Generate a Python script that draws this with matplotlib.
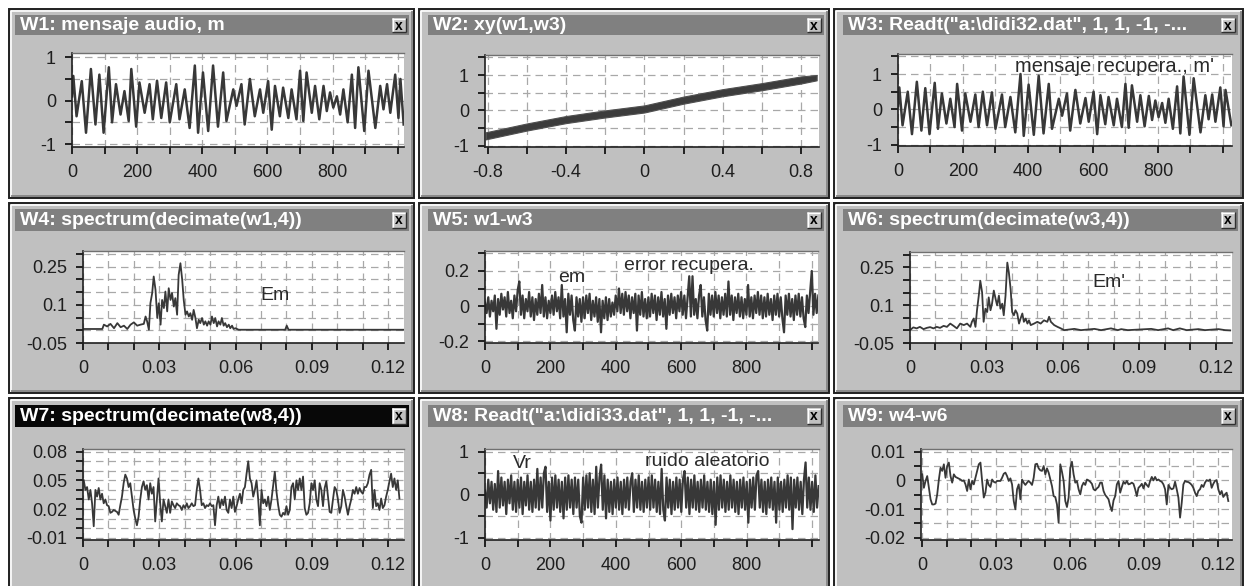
import numpy as np
import matplotlib
matplotlib.use('Agg')
import matplotlib.pyplot as plt
from matplotlib.patches import Rectangle

plt.rcParams['font.family'] = ['Liberation Sans', 'DejaVu Sans']

# ---------------- data ----------------
titles = ['W1: mensaje audio, m', 'W2: xy(w1,w3)', 'W3: Readt("a:\\didi32.dat", 1, 1, -1, -...',
          'W4: spectrum(decimate(w1,4))', 'W5: w1-w3', 'W6: spectrum(decimate(w3,4))',
          'W7: spectrum(decimate(w8,4))', 'W8: Readt("a:\\didi33.dat", 1, 1, -1, -...', 'W9: w4-w6']

# W1: message (extrema)
w1_idx = [0, 4, 14, 30, 43, 58, 72, 84, 97, 113, 123, 135, 149, 161, 174, 182, 197, 207, 223, 238,
          248, 261, 274, 289, 300, 320, 330, 346, 361, 377, 387, 402, 418, 433, 448, 464, 474, 495, 505, 520,
          530, 546, 561, 577, 587, 602, 613, 623, 638, 648, 664, 674, 689, 700, 710, 720, 736, 746, 759, 772,
          782, 792, 802, 813, 823, 833, 846, 859, 869, 879, 897, 910, 931, 946, 956, 967, 977, 992, 1002, 1008,
          1018]
w1_val = [0.1, 0.57, -0.36, 0.45, -0.74, 0.73, -0.55, 0.6, -0.74, 0.77,
          -0.5, 0.38, -0.32, 0.22, -0.47, 0.73, -0.6, 0.42, -0.28, 0.38,
          -0.43, 0.46, -0.4, 0.42, -0.5, 0.38, -0.43, 0.26, -0.63, 0.81,
          -0.74, 0.65, -0.7, 0.81, -0.6, 0.65, -0.47, 0.26, -0.12, 0.38,
          -0.55, 0.5, -0.36, 0.26, -0.28, 0.45, -0.67, 0.34, -0.36, 0.3,
          -0.4, 0.26, -0.43, 0.69, -0.47, 0.65, -0.28, 0.34, -0.43, 0.34,
          -0.24, 0.19, -0.16, 0.1, -0.32, 0.26, -0.5, 0.6, -0.63, 0.77,
          -0.7, 0.69, -0.63, 0.34, -0.2, 0.38, -0.28, 0.6, -0.4, 0.5,
          -0.55]

# W3: recovered message
w3_idx = w1_idx[:-1] + [1026]
w3_val = [0.1, 0.62, -0.45, 0.5, -0.7, 0.78, -0.6, 0.6, -0.7, 0.75,
          -0.55, 0.45, -0.4, 0.3, -0.5, 0.72, -0.6, 0.45, -0.35, 0.42,
          -0.5, 0.5, -0.45, 0.48, -0.55, 0.42, -0.5, 0.35, -0.65, 1.0,
          -0.75, 0.7, -0.72, 0.95, -0.68, 0.72, -0.55, 0.3, -0.18, 0.45,
          -0.6, 0.55, -0.4, 0.32, -0.35, 0.5, -0.7, 0.4, -0.42, 0.35,
          -0.45, 0.3, -0.5, 0.72, -0.52, 0.68, -0.35, 0.4, -0.48, 0.38,
          -0.3, 0.25, -0.22, 0.18, -0.38, 0.3, -0.55, 0.65, -0.68, 0.93,
          -0.72, 0.88, -0.65, 0.4, -0.28, 0.42, -0.35, 0.62, -0.48, 0.55,
          -0.45]

# W2: xy(w1, w3) band
xy_x = [-0.81, -0.6, -0.4, -0.2, 0.0, 0.2, 0.4, 0.6, 0.8, 0.88]
xy_lo = [-0.82, -0.57, -0.36, -0.20, -0.06, 0.19, 0.40, 0.57, 0.76, 0.85]
xy_hi = [-0.62, -0.37, -0.16, 0.00, 0.14, 0.39, 0.60, 0.77, 0.96, 1.0]

# W4: spectrum of m
w4_f = [0.0, 0.0076, 0.0082, 0.0095, 0.0108, 0.0122, 0.0135, 0.0148, 0.0161, 0.0174,
        0.0187, 0.0200, 0.0213, 0.0226, 0.0239,
        0.0246, 0.0252, 0.0259, 0.0265, 0.0272, 0.0278, 0.0285, 0.0292, 0.0298, 0.0305,
        0.0311, 0.0318, 0.0324, 0.0331, 0.0337, 0.0344, 0.0350, 0.0357, 0.0363, 0.0370,
        0.0376, 0.0383, 0.0390, 0.0396, 0.0403, 0.0409, 0.0416, 0.0422, 0.0429, 0.0435,
        0.0442, 0.0448, 0.0455, 0.0461, 0.0468, 0.0475, 0.0481, 0.0488, 0.0494, 0.0501,
        0.0507, 0.0514, 0.0520, 0.0527, 0.0533, 0.0540, 0.0546, 0.0553, 0.0559, 0.0566,
        0.0573, 0.0579, 0.0586, 0.0592, 0.0599,
        0.0612, 0.0638, 0.0795, 0.0801, 0.0808, 0.1262]
w4_v = [0.005, 0.005, 0.022, 0.015, 0.025, 0.008, 0.028, 0.012, 0.018, 0.005,
        0.022, 0.031, 0.018, 0.022, 0.025,
        0.054, 0.035, 0.002, 0.106, 0.146, 0.211, 0.159, 0.048, 0.106, 0.022,
        0.119, 0.087, 0.152, 0.074, 0.165, 0.119, 0.146, 0.093, 0.126, 0.061,
        0.217, 0.263, 0.198, 0.119, 0.061, 0.074, 0.054, 0.067, 0.041, 0.080,
        0.048, 0.008, 0.041, 0.028, 0.048, 0.022, 0.035, 0.018, 0.035, 0.022,
        0.054, 0.028, 0.048, 0.015, 0.035, 0.022, 0.048, 0.018, 0.028, 0.012,
        0.022, 0.008, 0.018, 0.005, 0.008,
        0.002, 0.002, 0.002, 0.018, 0.002, 0.002]

# W5: error w1-w3 (every 5th sample)
w5_step = 5
w5_val = [0.02, -0.04, 0.05, -0.06, 0.03, -0.03, 0.06, -0.13, 0.04, -0.05, 0.07, -0.02, 0.05, -0.06, 0.08, -0.04, 0.03, -0.07, 0.06, -0.03,
          0.09, 0.14, -0.05, 0.06, -0.07, 0.04, -0.03, 0.08, -0.06, 0.05, -0.08, 0.04, -0.05, 0.07, -0.04, 0.12, -0.06, 0.05, -0.07, 0.03,
          -0.04, 0.06, -0.05, 0.08, -0.03, 0.05, -0.07, 0.12, -0.06, 0.04, -0.15, 0.07, -0.05, 0.06, -0.08, -0.14, 0.05, -0.06, 0.04, -0.09,
          0.05, -0.07, 0.06, -0.04, 0.07, -0.08, 0.03, -0.06, 0.05, -0.09, 0.04, -0.15, 0.03, -0.07, 0.05, -0.08, 0.04, -0.06, 0.02, -0.05,
          0.06, -0.03, 0.1, -0.04, 0.07, -0.05, 0.08, -0.03, 0.06, -0.07, 0.05, -0.04, 0.07, -0.14, 0.06, -0.05, 0.08, -0.06, 0.04, -0.07,
          0.05, -0.06, 0.07, -0.04, 0.06, -0.08, 0.05, -0.05, 0.08, -0.06, 0.04, -0.13, 0.06, -0.05, 0.07, -0.04, 0.05, -0.07, 0.06, -0.03,
          0.08, -0.05, 0.06, -0.07, 0.05, 0.17, -0.06, 0.17, -0.05, 0.04, -0.07, 0.06, 0.12, -0.06, 0.05, -0.08, -0.14, 0.07, -0.05, 0.06,
          -0.06, 0.08, -0.04, 0.06, -0.07, 0.05, -0.05, 0.07, -0.06, 0.14, -0.05, 0.06, -0.08, 0.05, -0.04, 0.07, -0.06, 0.05, -0.07, 0.04,
          -0.05, 0.12, -0.06, 0.05, -0.07, 0.06, -0.04, 0.08, -0.05, 0.06, -0.07, 0.05, -0.06, 0.07, -0.05, 0.04, -0.08, 0.06, -0.05, 0.07,
          -0.06, 0.05, -0.07, -0.15, 0.06, -0.05, 0.07, -0.06, 0.04, -0.08, 0.06, -0.05, 0.07, -0.06, 0.05, -0.07, -0.12, 0.06, -0.04, 0.08,
          0.2, -0.05, 0.07, -0.04, 0.06]

# W6: spectrum of m'
w6_f = [0.0, 0.0013, 0.0026, 0.0039, 0.0053, 0.0066, 0.0079, 0.0092, 0.0105, 0.0118,
        0.0132, 0.0145, 0.0158, 0.0171, 0.0184, 0.0197, 0.0211, 0.0224, 0.0237, 0.0243,
        0.0250, 0.0257, 0.0263, 0.0270, 0.0276, 0.0283, 0.0289, 0.0296, 0.0303, 0.0309,
        0.0316, 0.0322, 0.0329, 0.0336, 0.0342, 0.0349, 0.0355, 0.0362, 0.0368, 0.0375,
        0.0382, 0.0388, 0.0395, 0.0401, 0.0408, 0.0414, 0.0421, 0.0428, 0.0434, 0.0441,
        0.0447, 0.0454, 0.0461, 0.0467, 0.0474, 0.0487, 0.0500, 0.0513, 0.0526, 0.0539,
        0.0546, 0.0553, 0.0566, 0.0579, 0.0592, 0.0605, 0.0645, 0.0671, 0.0724, 0.0750,
        0.0789, 0.0816, 0.0829, 0.0855, 0.0947, 0.0974, 0.1013, 0.1033, 0.1059, 0.1086,
        0.1132, 0.1158, 0.1211, 0.1237, 0.1257]
w6_v = [0.001, 0.012, 0.008, 0.014, 0.005, 0.010, 0.013, 0.008, 0.014, 0.010,
        0.018, 0.014, 0.027, 0.018, 0.008, 0.027, 0.021, 0.027, 0.014, 0.034,
        0.047, 0.014, 0.080, 0.138, 0.197, 0.151, 0.034, 0.086, 0.073, 0.131,
        0.080, 0.106, 0.158, 0.125, 0.099, 0.138, 0.086, 0.106, 0.060, 0.138,
        0.269, 0.230, 0.164, 0.073, 0.060, 0.080, 0.067, 0.027, 0.047, 0.067,
        0.034, 0.047, 0.027, 0.040, 0.021, 0.027, 0.034, 0.027, 0.040, 0.034,
        0.054, 0.034, 0.021, 0.014, 0.008, 0.001, 0.006, 0.001, 0.006, 0.001,
        0.008, 0.001, 0.005, 0.001, 0.006, 0.001, 0.008, 0.001, 0.008, 0.001,
        0.005, 0.001, 0.005, 0.001, 0.000]

# W7: spectrum of noise (uniform bins)
w7_f0, w7_f1 = 0.0003, 0.1244
w7_v = [0.050, 0.040, 0.043, 0.030, 0.040, 0.026, 0.002, 0.040, 0.033, 0.042,
        0.030, 0.036, 0.026, 0.030, 0.024, 0.023, 0.016, 0.017, 0.019, 0.018,
        0.017, 0.014, 0.024, 0.033, 0.047, 0.056, 0.052, 0.043, 0.047, 0.033,
        0.019, 0.010, 0.003, 0.012, 0.030, 0.043, 0.049, 0.040, 0.045, 0.030,
        0.047, 0.036, 0.043, 0.007, 0.030, 0.052, 0.026, 0.007, 0.030, 0.023,
        0.016, 0.030, 0.016, 0.028, 0.024, 0.021, 0.026, 0.024, 0.023, 0.019,
        0.024, 0.021, 0.026, 0.021, 0.023, 0.026, 0.023, 0.024, 0.040, 0.052,
        0.040, 0.024, 0.026, 0.021, 0.024, 0.023, 0.026, 0.023, 0.024, 0.003,
        0.024, 0.033, 0.021, 0.030, 0.024, 0.033, 0.019, 0.016, 0.030, 0.021,
        0.033, 0.017, 0.023, 0.030, 0.036, 0.026, 0.040, 0.043, 0.057, 0.070,
        0.052, 0.047, 0.033, 0.040, 0.050, 0.030, 0.003, 0.040, 0.026, 0.030,
        0.023, 0.033, 0.019, 0.030, 0.045, 0.059, 0.038, 0.024, 0.014, 0.012,
        0.016, 0.014, 0.023, 0.014, 0.019, 0.043, 0.047, 0.030, 0.050, 0.040,
        0.052, 0.040, 0.054, 0.021, 0.014, 0.016, 0.026, 0.047, 0.040, 0.050,
        0.030, 0.023, 0.047, 0.040, 0.023, 0.042, 0.049, 0.033, 0.017, 0.016,
        0.030, 0.043, 0.040, 0.030, 0.016, 0.023, 0.040, 0.033, 0.023, 0.014,
        0.023, 0.030, 0.040, 0.036, 0.043, 0.036, 0.042, 0.038, 0.036, 0.043,
        0.043, 0.047, 0.056, 0.061, 0.021, 0.040, 0.023, 0.026, 0.019, 0.031,
        0.021, 0.024, 0.033, 0.040, 0.049, 0.057, 0.043, 0.052, 0.040, 0.050,
        0.031]

# W8: random noise (every 5th sample)
w8_step = 5
w8_val = [0.1, -0.3, 0.35, -0.2, 0.3, -0.35, 0.25, -0.4, 0.55, -0.3, 0.4, -0.25, 0.3, -0.45, 0.35, -0.2, 0.45, -0.35, 0.3, -0.4,
          0.35, -0.3, 0.4, -0.45, 0.3, -0.25, 0.45, -0.35, 0.3, -0.4, 0.35, -0.3, 0.6, -0.35, 0.4, -0.3, 0.5, 0.65, -0.4, 0.3,
          -0.6, 0.4, -0.35, 0.45, -0.3, 0.35, -0.4, 0.3, -0.55, 0.4, -0.35, 0.45, -0.3, 0.35, -0.45, 0.4, -0.3, 0.35, -0.5, -0.65,
          0.4, -0.35, 0.45, -0.3, 0.5, -0.4, 0.35, -0.45, 0.65, -0.3, 0.4, 0.7, -0.35, 0.45, -0.55, 0.35, -0.4, 0.3, -0.45, 0.35,
          -0.3, 0.4, -0.35, 0.3, -0.45, 0.35, -0.3, 0.4, -0.35, 0.3, 0.5, -0.4, 0.35, -0.3, 0.45, -0.35, 0.3, -0.4, 0.35, -0.3,
          0.4, -0.35, 0.45, -0.3, 0.35, -0.4, 0.3, -0.45, 0.6, -0.35, -0.6, 0.4, -0.3, 0.35, -0.45, 0.3, -0.35, 0.4, -0.3, 0.35,
          -0.4, 0.35, 0.55, -0.3, 0.4, -0.45, 0.35, -0.3, 0.45, -0.35, 0.3, -0.4, 0.35, -0.3, 0.45, -0.35, 0.3, -0.4, 0.35, -0.45,
          0.3, -0.7, 0.4, -0.35, 0.45, -0.3, 0.35, -0.4, 0.3, -0.35, 0.45, -0.3, 0.35, -0.4, 0.3, -0.45, 0.35, -0.3, 0.4, -0.35,
          0.3, -0.65, 0.35, -0.3, 0.4, -0.35, 0.45, 0.55, -0.3, 0.35, -0.4, 0.3, -0.45, 0.35, -0.3, 0.4, -0.35, 0.3, -0.65, 0.4,
          -0.35, 0.3, -0.4, 0.35, -0.3, 0.45, -0.35, 0.4, -0.8, 0.35, -0.3, 0.4, -0.35, 0.3, -0.45, 0.35, 0.75, -0.3, 0.4, -0.35,
          0.3, -0.4, 0.45, -0.3, 0.2]

# W9: w4 - w6 (uniform bins)
w9_f0, w9_f1 = 0.0001, 0.1241
w9_v = [0.0021, -0.0026, -0.0002, 0.0015, -0.0026, -0.0066, -0.0084, -0.0084, -0.0081, -0.0049,
        0.0003, 0.0044, 0.0033, 0.0056, 0.0009, 0.0050, 0.0062, 0.0015, -0.0008, 0.0021,
        0.0012, 0.0009, 0.0006, 0.0003, -0.0002, 0.0, -0.0014, -0.0037, 0.0003, -0.0031,
        -0.0002, -0.0014, 0.0009, 0.0033, 0.0056, 0.0062, -0.0002, -0.0060, -0.0043, 0.0003,
        -0.0016, -0.0023, 0.0003, -0.0005, -0.0008, -0.0002, -0.0002, -0.0002, 0.0009, 0.0023,
        0.0027, 0.0015, -0.0002, 0.0007, -0.0014, -0.0072, -0.0101, -0.0031, -0.0014, -0.0066,
        0.0003, -0.0008, -0.0016, -0.0008, -0.0002, -0.0008, -0.0016, 0.0009, 0.0056, 0.0058,
        0.0042, 0.0035, 0.0033, 0.0050, 0.0021, 0.0042, 0.0027, 0.0003, -0.0020, -0.0055,
        -0.0058, -0.0084, -0.0148, 0.0056, 0.0030, -0.0002, -0.0072, -0.0093, -0.0060, 0.0044,
        0.0065, 0.0021, -0.0008, -0.0002, -0.0031, -0.0049, -0.0020, -0.0008, -0.0016, 0.0003,
        0.0, -0.0005, -0.0012, -0.0031, -0.0035, -0.0028, -0.0023, -0.0008, -0.0008, -0.0037,
        -0.0051, -0.0058, -0.0066, -0.0090, -0.0107, -0.0070, -0.0055, -0.0014, -0.0002, -0.0043,
        -0.0023, -0.0005, -0.0012, -0.0002, -0.0014, -0.0012, -0.0008, -0.0012, -0.0031, -0.0055,
        -0.0026, -0.0020, -0.0012, -0.0028, -0.0008, -0.0016, -0.0023, -0.0002, 0.0012, 0.0,
        0.0012, 0.0, 0.0003, -0.0002, -0.0005, -0.0014, -0.0031, -0.0084, -0.0016, -0.0026,
        -0.0031, -0.0028, -0.0005, -0.0031, -0.0060, -0.0130, -0.0078, -0.0014, -0.0002, -0.0005,
        -0.0006, -0.0010, -0.0016, -0.0026, -0.0043, -0.0055, -0.0037, -0.0031, -0.0016, -0.0023,
        -0.0008, 0.0001, -0.0002, 0.0003, -0.0026, -0.0012, -0.0002, 0.0001, -0.0031, -0.0049,
        -0.0037, -0.0058, -0.0049, -0.0043, -0.0072]

# tick definitions
t_idx_major = [0, 200, 400, 600, 800]
t_idx_minor = [100, 300, 500, 700, 900, 1000]
t_idx_lab = ['0', '200', '400', '600', '800']
t_f_major = [0, 0.03, 0.06, 0.09, 0.12]
t_f_minor = [0.01, 0.02, 0.04, 0.05, 0.07, 0.08, 0.10, 0.11]
t_f_lab = ['0', '0.03', '0.06', '0.09', '0.12']

# ---------------- figure ----------------
W, H = 1247, 586
fig = plt.figure(figsize=(W / 100, H / 100), dpi=100)
fig.patch.set_facecolor('white')
bg = fig.add_axes([0, 0, 1, 1])
bg.set_xlim(0, W)
bg.set_ylim(H, 0)
bg.axis('off')

BODY = '#c0c0c0'
TITLE = '#808080'
LINE = '#383838'
TXT = '#1e1e1e'

col_x = [(9, 414), (419, 829), (834, 1243)]
row_y = [(9, 198), (203, 393), (398, 592)]
title_x = [(15, 409), (428, 824), (843, 1238)]
title_y = [(15, 35), (209, 231), (405, 427)]


def hline(x0, x1, y, c, lw=1.0):
    bg.plot([x0, x1], [y, y], color=c, lw=lw, solid_capstyle='butt')


def vline(x, y0, y1, c, lw=1.0):
    bg.plot([x, x], [y0, y1], color=c, lw=lw, solid_capstyle='butt')


for r in range(3):
    for c in range(3):
        k = r * 3 + c
        x0, x1 = col_x[c]
        y0, y1 = row_y[r]
        bg.add_patch(Rectangle((x0, y0), x1 - x0, y1 - y0, facecolor=BODY, edgecolor='#202020', lw=1.4))
        hline(x0 + 1.5, x1 - 1.5, y0 + 2, 'white', 1.2)
        vline(x0 + 2, y0 + 1.5, y1 - 1.5, 'white', 1.2)
        hline(x0 + 1.5, x1 - 1.5, y1 - 2, '#808080', 1.2)
        vline(x1 - 2, y0 + 1.5, y1 - 1.5, '#808080', 1.2)
        tx0, tx1 = title_x[c]
        ty0, ty1 = title_y[r]
        active = (k == 6)
        bg.add_patch(Rectangle((tx0, ty0), tx1 - tx0, ty1 - ty0,
                               facecolor='#080808' if active else TITLE, edgecolor='none'))
        bg.text(tx0 + 5, (ty0 + ty1) / 2 + 0.5, titles[k], color='white', fontsize=14,
                fontweight='bold', va='center', ha='left')
        # close button
        bx0, by0, bw, bh = tx1 - 17, ty0 + 3, 14, ty1 - ty0 - 6
        bg.add_patch(Rectangle((bx0, by0), bw, bh, facecolor=BODY, edgecolor='none'))
        hline(bx0, bx0 + bw, by0 + 0.5, 'white', 1)
        vline(bx0 + 0.5, by0, by0 + bh, 'white', 1)
        hline(bx0, bx0 + bw, by0 + bh - 0.5, '#303030', 1)
        vline(bx0 + bw - 0.5, by0, by0 + bh, '#303030', 1)
        bg.text(bx0 + bw / 2, by0 + bh / 2 + 0.5, 'x', fontsize=10, fontweight='bold',
                color='black', ha='center', va='center')


def make_ax(px0, px1, py0, py1, xlim, ylim, xmaj, xmin, xlab, ymaj, ymin, ylab):
    ax = fig.add_axes([px0 / W, 1 - py1 / H, (px1 - px0) / W, (py1 - py0) / H])
    ax.set_facecolor('white')
    ax.set_xlim(*xlim)
    ax.set_ylim(*ylim)
    ax.set_xticks(xmaj)
    ax.set_xticklabels(xlab)
    ax.set_xticks(xmin, minor=True)
    ax.set_yticks(ymaj)
    ax.set_yticklabels(ylab)
    ax.set_yticks(ymin, minor=True)
    ax.spines['right'].set_visible(False)
    ax.spines['top'].set_color('#707070')
    ax.spines['top'].set_linewidth(1.0)
    for s in ('left', 'bottom'):
        ax.spines[s].set_color('#202020')
        ax.spines[s].set_linewidth(1.2)
    ax.tick_params(which='both', direction='out', length=5, width=1.4, color='#202020',
                   labelsize=13, labelcolor=TXT)
    ax.tick_params(axis='y', which='both', pad=6.5)
    ax.tick_params(axis='x', which='both', pad=7.5)
    ax.grid(which='both', color='#a8a8a8', lw=0.9, ls=(0, (6, 4)))
    ax.set_axisbelow(True)
    return ax


def ftext(x, y, s, size=14, ha='left'):
    fig.text(x / W, 1 - y / H, s, fontsize=size, color='#2a2a2a', ha=ha, va='center')


# W1
ax1 = make_ax(72, 404, 53, 147, (0, 1019), (-1.069, 1.099), t_idx_major, t_idx_minor, t_idx_lab,
              [-1, 0, 1], [-0.5, 0.5], ['-1', '0', '1'])
ax1.plot(w1_idx, w1_val, color=LINE, lw=1.8)

# W2
ax2 = make_ax(485, 819, 55, 147, (-0.814, 0.892), (-1.036, 1.566), [-0.8, -0.4, 0, 0.4, 0.8],
              [-0.6, -0.2, 0.2, 0.6], ['-0.8', '-0.4', '0', '0.4', '0.8'],
              [-1, 0, 1], [-0.5, 0.5, 1.5], ['-1', '0', '1'])
ax2.fill_between(xy_x, xy_lo, xy_hi, color='#3c3c3c', lw=0.8, edgecolor='#505050')

# W3
ax3 = make_ax(898, 1232, 54, 146, (0, 1028), (-1.036, 1.566), t_idx_major, t_idx_minor, t_idx_lab,
              [-1, 0, 1], [-0.5, 0.5, 1.5], ['-1', '0', '1'])
ax3.plot(w3_idx, w3_val, color=LINE, lw=1.8)
ftext(1015, 67, "mensaje recupera., m'", 14.5)

# W4
ax4 = make_ax(83, 404, 251, 343, (0, 0.1262), (-0.05, 0.311), t_f_major, t_f_minor, t_f_lab,
              [-0.05, 0.1, 0.25], [0, 0.05, 0.15, 0.2, 0.3], ['-0.05', '0.1', '0.25'])
ax4.plot(w4_f, w4_v, color=LINE, lw=1.3)
ftext(260, 295, 'Em', 14)

# W5
ax5 = make_ax(485, 818, 251, 343, (0, 1019), (-0.211, 0.314), t_idx_major, t_idx_minor, t_idx_lab,
              [-0.2, 0, 0.2], [-0.1, 0.1, 0.3], ['-0.2', '0', '0.2'])
ax5.plot(np.arange(len(w5_val)) * w5_step, w5_val, color=LINE, lw=1.6)
ftext(558, 277, 'em', 14)
ftext(624, 265, 'error recupera.', 14)

# W6
ax6 = make_ax(910, 1232, 252, 343, (0, 0.1264), (-0.05, 0.311), t_f_major, t_f_minor, t_f_lab,
              [-0.05, 0.1, 0.25], [0, 0.05, 0.15, 0.2, 0.3], ['-0.05', '0.1', '0.25'])
ax6.plot(w6_f, w6_v, color=LINE, lw=1.3)
ftext(1092, 282, "Em'", 14)

# W7
ax7 = make_ax(83, 404, 449, 540, (0, 0.1262), (-0.0124, 0.0828), t_f_major, t_f_minor, t_f_lab,
              [-0.01, 0.02, 0.05, 0.08], [0, 0.01, 0.03, 0.04, 0.06, 0.07],
              ['-0.01', '0.02', '0.05', '0.08'])
ax7.plot(np.linspace(w7_f0, w7_f1, len(w7_v)), w7_v, color=LINE, lw=1.3)

# W8
ax8 = make_ax(485, 819, 449, 540, (0, 1021), (-1.053, 1.063), t_idx_major, t_idx_minor, t_idx_lab,
              [-1, 0, 1], [-0.5, 0.5], ['-1', '0', '1'])
ax8.plot(np.arange(len(w8_val)) * w8_step, w8_val, color=LINE, lw=1.6)
ftext(513, 463, 'Vr', 14)
ftext(645, 461, 'ruido aleatorio', 14)

# W9
ax9 = make_ax(921, 1232, 449, 540, (-0.0004, 0.1256), (-0.0208, 0.01094), t_f_major, t_f_minor, t_f_lab,
              [-0.02, -0.01, 0, 0.01], [-0.015, -0.005, 0.005], ['-0.02', '-0.01', '0', '0.01'])
ax9.plot(np.linspace(w9_f0, w9_f1, len(w9_v)), w9_v, color=LINE, lw=1.3)

fig.savefig('out.png', dpi=100)
